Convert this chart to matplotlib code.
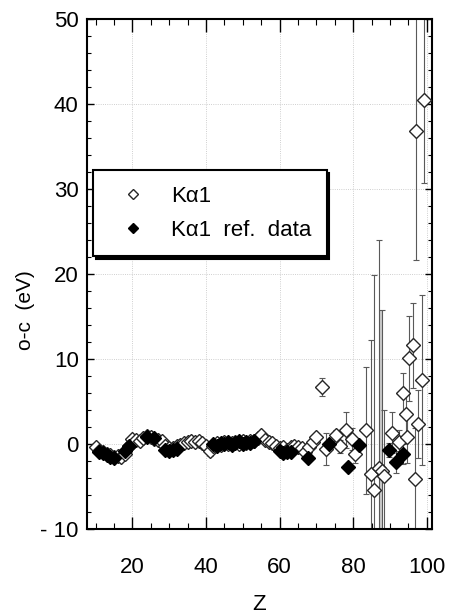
import numpy as np
import matplotlib
matplotlib.use("Agg")
import matplotlib.pyplot as plt
from matplotlib.ticker import MultipleLocator, FuncFormatter

plt.rcParams['font.family'] = ['Liberation Sans', 'DejaVu Sans']
plt.rcParams['axes.unicode_minus'] = False

# K alpha 1, open diamonds
z_open = [10, 11, 12, 13, 14, 15, 16, 17, 18, 19, 20, 21, 22, 23, 24, 25, 26, 27, 28, 29,
          30, 31, 32, 33, 34, 35, 36, 37, 38, 39, 40, 41, 42, 43, 44, 45, 46, 47, 48, 49,
          50, 51, 52, 53, 54, 55, 56, 57, 58, 59, 60, 61, 62, 63, 64, 65, 66, 67, 68, 69,
          70, 71.6, 72.6, 75.4, 76.5, 77.9, 79.7, 80.4, 83.4, 84.8, 85.7, 87.0, 87.7, 88.4,
          90.4, 92.4, 93.4, 94.4, 94.6, 95.2, 96.3, 96.8, 97.1, 97.6, 98.7, 99.3]
v_open = [-0.4, -0.8, -1.0, -1.2, -1.3, -1.5, -1.4, -1.5, -1.2, -0.3, 0.6, 0.5, 0.3, 0.7, 0.9, 0.8, 0.6, 0.5, 0.3, -0.3,
          -0.5, -0.5, -0.3, -0.1, 0.1, 0.2, 0.3, 0.2, 0.4, 0.1, -0.3, -0.8, -0.2, 0.1, -0.1, 0.2, 0.0, 0.1, 0.2, 0.0,
          0.3, 0.1, 0.4, 0.4, 0.7, 1.1, 0.5, 0.2, 0.1, -0.2, -0.5, -0.4, -0.7, -0.4, -0.3, -0.4, -0.5, -0.9, -0.4, 0.2,
          0.8, 6.7, -0.6, 1.0, -0.3, 1.6, 0.6, -1.2, 1.6, -3.5, -5.4, -2.8, -3.2, -3.8,
          1.3, 0.2, 6.0, 3.5, 0.8, 10.1, 11.6, -4.1, 36.8, 2.4, 7.5, 40.5]
e_open = [0] * 31 + [0.6] + [0] * 29 + [1.1, 1.9, 0.6, 0.8, 2.1, 1.3, 1.0, 7.5, 15.7, 25.3, 26.8, 19.0, 7.8,
          2.4, 1.4, 2.4, 2.5, 3.0, 5.0, 5.0, 6.0, 15.2, 4.0, 10.0, 9.8]

# K alpha 1 reference data, filled diamonds
z_ref = [11, 12, 13, 14, 15, 18, 19, 24, 26, 29, 30, 31, 32, 42, 43, 44, 45, 46, 47, 48,
         49, 50, 51, 52, 53, 60, 61, 62, 63, 67.8, 73.5, 78.7, 81.6, 89.7, 91.6, 93.6]
v_ref = [-1.0, -1.1, -1.3, -1.5, -1.6, -0.8, -0.2, 0.8, 0.7, -0.7, -0.8, -0.7, -0.6, 0.0, -0.2, 0.1, 0.0, 0.2, -0.1, 0.1,
         0.3, 0.0, 0.2, 0.1, 0.3, -0.8, -1.1, -0.9, -1.0, -1.6, 0.0, -2.7, -0.1, -0.7, -2.1, -1.2]
e_ref = [0] * 33 + [0.8, 1.3, 1.2]

x_ticks = [20, 40, 60, 80, 100]
y_ticks = [-10, 0, 10, 20, 30, 40, 50]


def spaced(v, pos):
    # old plot style: minus sign set apart from the digits
    s = '%d' % abs(v)
    if v < 0:
        s = '- ' + s
    return s


fig = plt.figure(figsize=(4.51, 6.15), dpi=100)
ax = fig.add_axes([0.193, 0.140, 0.765, 0.829])

ax.errorbar(z_open, v_open, yerr=e_open, fmt='none', ecolor='0.35', elinewidth=0.8,
            capsize=2.5, capthick=0.8, zorder=2)
ax.errorbar(z_ref, v_ref, yerr=e_ref, fmt='none', ecolor='0.35', elinewidth=0.8,
            capsize=2.5, capthick=0.8, zorder=2)
# grey band from overlapping error bars near Z=87
ax.fill_between([86.9, 87.9], [15.8, 15.8], [-10, -10], color='0.8', zorder=1, lw=0)

ax.plot(z_open, v_open, 'D', mfc='white', mec='0.15', ms=7, mew=1.0, zorder=3,
        label='K\u03b11')
ax.plot(z_ref, v_ref, 'D', mfc='black', mec='black', ms=7, mew=1.0, zorder=4,
        label='K\u03b11  ref.  data')

ax.set_xlim(7.7, 101.4)
ax.set_ylim(-10, 50)
ax.set_xticks(x_ticks)
ax.set_yticks(y_ticks)
ax.xaxis.set_minor_locator(MultipleLocator(5))
ax.yaxis.set_minor_locator(MultipleLocator(2))
ax.xaxis.set_major_formatter(FuncFormatter(spaced))
ax.yaxis.set_major_formatter(FuncFormatter(spaced))
ax.tick_params(which='both', direction='in', top=True, right=True, labelsize=16)
ax.tick_params(axis='x', which='major', length=9, width=1.0, pad=20)
ax.tick_params(axis='x', which='minor', length=4, width=0.8)
ax.tick_params(axis='y', which='major', length=5, width=1.0, pad=6)
ax.tick_params(axis='y', which='minor', length=3, width=0.8)
for s in ax.spines.values():
    s.set_linewidth(1.5)

ax.grid(True, which='major', color='0.75', linestyle=':', linewidth=0.6)

ax.set_xlabel('Z', fontsize=16, labelpad=12)
ax.set_ylabel('o-c  (eV)', fontsize=15)
ax.yaxis.set_label_coords(-0.15, 0.43)

leg = ax.legend(loc='upper left', bbox_to_anchor=(0.017, 0.704), borderaxespad=0,
                fontsize=16, frameon=True, fancybox=False, markerscale=0.75,
                shadow={'color': 'black', 'alpha': 1.0}, handletextpad=0.6,
                borderpad=0.7, labelspacing=0.6, handlelength=2.2)
leg.get_frame().set_edgecolor('black')
leg.get_frame().set_linewidth(1.5)

fig.savefig('out.png', dpi=100)
